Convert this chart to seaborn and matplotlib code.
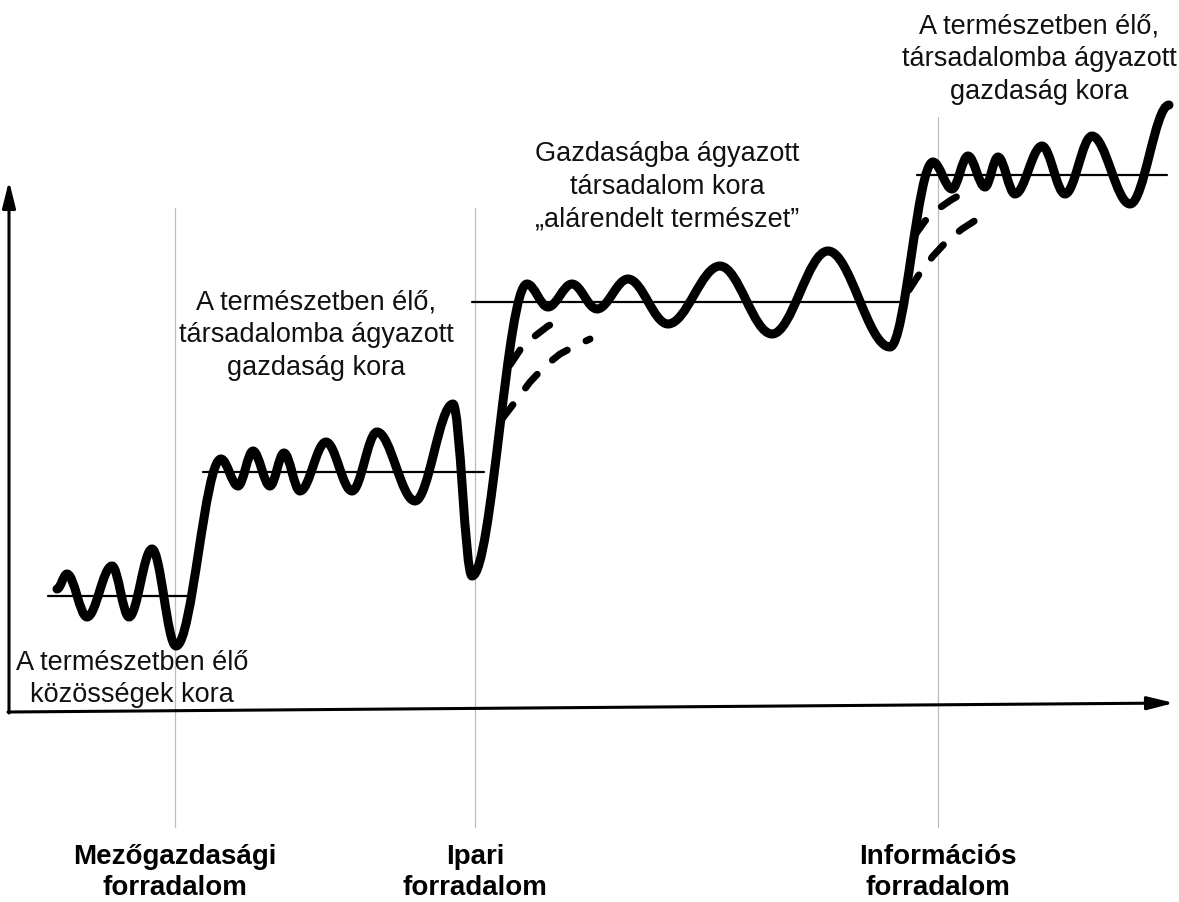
import numpy as np
import pandas as pd
import seaborn as sns
import matplotlib.pyplot as plt
from matplotlib.path import Path
from matplotlib.patches import PathPatch

# Diagram coordinates (x to the right, y downward)
# Extrema of the main wave (peaks / troughs), left to right
wave_x = [57, 67, 87, 112, 129, 152, 176,
          221, 238, 253, 270, 284, 300, 326, 352, 377, 415, 453, 472,
          527, 548, 572, 597, 628, 668, 720, 772, 828, 890,
          933, 952, 968, 985, 998, 1015, 1042, 1065, 1092, 1130, 1169]
wave_y = [590, 575, 618, 567, 618, 550, 647,
          460, 487, 452, 487, 454, 492, 443, 492, 433, 502, 405, 577,
          285, 308, 285, 310, 280, 325, 267, 335, 252, 348,
          163, 190, 157, 188, 158, 195, 147, 195, 137, 205, 106]

# Mean level of each era
level_x0 = [48, 203, 472, 917]
level_x1 = [195, 484, 900, 1167]
level_y = [597, 473, 303, 176]

# Dashed slower-adaptation branches
dash_a_x = [510, 522, 535, 548, 562]
dash_a_y = [366, 348, 337, 327, 320]
dash_b_x = [502, 515, 530, 545, 560, 575, 590]
dash_b_y = [420, 403, 383, 367, 355, 347, 340]
dash_c_x = [915, 925, 938, 951, 965]
dash_c_y = [236, 222, 210, 201, 193]
dash_d_x = [909, 918, 933, 946, 962, 976, 992]
dash_d_y = [291, 277, 257, 243, 230, 221, 213]

# Revolutions (vertical guides)
rev_x = [175, 475, 938]
rev_top = [209, 209, 118]
rev_labels = ["Mezőgazdasági\nforradalom", "Ipari\nforradalom", "Információs\nforradalom"]

# Era captions
era_text = ["A természetben élő\nközösségek kora",
            "A természetben élő,\ntársadalomba ágyazott\ngazdaság kora",
            "Gazdaságba ágyazott\ntársadalom kora\n„alárendelt természet”",
            "A természetben élő,\ntársadalomba ágyazott\ngazdaság kora"]
era_x = [132, 316, 667, 1039]
era_y = [679, 335, 187, 59]

sns.set_theme(style="white")
plt.rcParams['font.family'] = ['Liberation Sans', 'DejaVu Sans']

fig = plt.figure(figsize=(11.79, 9.03), dpi=100)
ax = fig.add_axes([0, 0, 1, 1])
ax.set_xlim(0, 1179)
ax.set_ylim(903, 0)
ax.axis('off')

# revolution guides
for x, top in zip(rev_x, rev_top):
    ax.plot([x, x], [top, 828], color='#bdbdbd', lw=0.9, zorder=1)

# mean levels
levels = pd.DataFrame({'x0': level_x0, 'x1': level_x1, 'y': level_y})
for i, row in levels.iterrows():
    sns.lineplot(x=[row.x0, row.x1], y=[row.y, row.y], color='black', lw=1.6, ax=ax, zorder=2)

# main wave: smooth S-curves between consecutive extrema
k = 0.36
verts = [(wave_x[0], wave_y[0])]
codes = [Path.MOVETO]
for i in range(len(wave_x) - 1):
    x0, y0, x1, y1 = wave_x[i], wave_y[i], wave_x[i + 1], wave_y[i + 1]
    dx = x1 - x0
    verts += [(x0 + k * dx, y0), (x1 - k * dx, y1), (x1, y1)]
    codes += [Path.CURVE4] * 3
ax.add_patch(PathPatch(Path(verts, codes), facecolor='none', edgecolor='black',
                       lw=6.5, capstyle='round', joinstyle='round', zorder=3))

# dashed branches
for xs, ys in [(dash_a_x, dash_a_y), (dash_b_x, dash_b_y), (dash_c_x, dash_c_y), (dash_d_x, dash_d_y)]:
    ax.plot(xs, ys, color='black', lw=5, linestyle=(0, (2.6, 3.0)),
            dash_capstyle='round', zorder=3)

# axes arrows
ax.annotate('', xy=(9, 182), xytext=(9, 714),
            arrowprops=dict(arrowstyle='-|>,head_length=0.8,head_width=0.2',
                            lw=2.2, color='black', mutation_scale=20, shrinkA=0, shrinkB=0))
ax.annotate('', xy=(1174, 704), xytext=(8, 713),
            arrowprops=dict(arrowstyle='-|>,head_length=0.8,head_width=0.2',
                            lw=2.2, color='black', mutation_scale=20, shrinkA=0, shrinkB=0))

# captions
for t, x, y in zip(era_text, era_x, era_y):
    ax.text(x, y, t, ha='center', va='center', multialignment='center',
            fontsize=19.5, color='#111111', linespacing=1.33)

for t, x in zip(rev_labels, rev_x):
    ax.text(x, 873, t, ha='center', va='center', multialignment='center',
            fontsize=20, fontweight='bold', linespacing=1.25, color='black')

fig.savefig('out.png', dpi=100)
